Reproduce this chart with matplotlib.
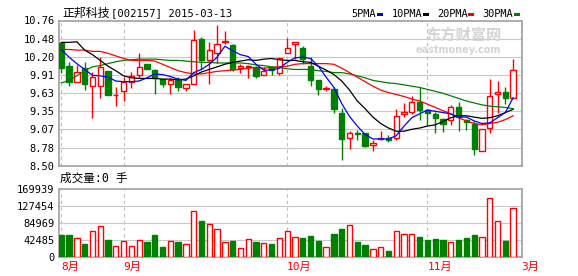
import numpy as np
import matplotlib.pyplot as plt
from matplotlib.patches import Rectangle

# daily candles (oldest first)
opens = [10.41, 10.05, 9.81, 10.02, 9.75, 9.74, 9.97, 9.60, 9.66, 9.81,
         9.91, 10.09, 9.99, 9.85, 9.77, 9.83, 9.71, 9.78, 10.48, 10.14,
         10.26, 10.43, 10.38, 10.02, 10.03, 10.04, 9.91, 10.03, 9.95, 10.26,
         10.40, 10.34, 10.06, 9.84, 9.70, 9.69, 9.32, 8.93, 9.01, 9.01,
         8.82, 8.92, 8.93, 8.93, 9.31, 9.34, 9.49, 9.37, 9.31, 9.23,
         9.21, 9.42, 9.21, 9.16, 8.73, 9.09, 9.62, 9.65, 9.56]
closes = [10.02, 9.80, 9.96, 9.77, 9.89, 10.04, 9.61, 9.61, 9.80, 9.90,
          10.04, 10.00, 9.86, 9.77, 9.84, 9.73, 9.78, 10.46, 10.14, 10.30,
          10.39, 10.44, 10.00, 10.05, 10.05, 9.90, 9.98, 9.99, 10.18, 10.33,
          10.42, 10.16, 9.83, 9.69, 9.71, 9.38, 8.92, 9.01, 8.99, 8.81,
          8.86, 8.93, 8.91, 9.28, 9.34, 9.50, 9.37, 9.32, 9.25, 9.16,
          9.42, 9.26, 9.19, 8.77, 9.07, 9.59, 9.65, 9.56, 9.99]
highs = [10.42, 10.12, 10.07, 10.11, 9.96, 10.19, 9.97, 9.73, 9.88, 9.96,
         10.26, 10.09, 10.00, 9.85, 9.87, 9.88, 9.78, 10.62, 10.50, 10.42,
         10.69, 10.59, 10.39, 10.08, 10.07, 10.06, 10.03, 10.04, 10.18, 10.49,
         10.42, 10.37, 10.19, 9.84, 9.75, 9.72, 9.40, 9.05, 9.06, 9.02,
         8.90, 9.05, 8.98, 9.39, 9.48, 9.59, 9.72, 9.38, 9.34, 9.25,
         9.45, 9.50, 9.23, 9.20, 9.07, 9.85, 9.82, 9.73, 10.16]
lows = [9.95, 9.75, 9.81, 9.68, 9.25, 9.56, 9.60, 9.43, 9.51, 9.71,
        9.87, 10.00, 9.62, 9.72, 9.62, 9.66, 9.67, 9.78, 9.99, 9.78,
        10.10, 10.39, 9.98, 9.95, 9.86, 9.86, 9.91, 9.91, 9.92, 10.26,
        10.16, 10.08, 9.75, 9.60, 9.66, 9.32, 8.59, 8.77, 8.91, 8.80,
        8.74, 8.90, 8.87, 8.91, 9.26, 9.31, 9.22, 9.14, 9.02, 9.03,
        9.13, 9.05, 9.06, 8.67, 8.73, 9.01, 9.33, 9.47, 9.56]

ma5 = [10.31, 10.19, 10.09, 10.00, 9.91, 9.90, 9.88, 9.82, 9.81, 9.81,
       9.82, 9.87, 9.93, 9.92, 9.89, 9.85, 9.83, 9.95, 10.00, 10.08,
       10.19, 10.36, 10.29, 10.23, 10.20, 10.08, 9.99, 9.99, 10.02, 10.11,
       10.18, 10.19, 10.17, 10.05, 9.88, 9.72, 9.47, 9.27, 9.12, 8.99,
       8.92, 8.92, 8.92, 8.97, 9.12, 9.25, 9.31, 9.37, 9.35, 9.33,
       9.31, 9.26, 9.26, 9.20, 9.16, 9.17, 9.25, 9.33, 9.56]
ma10 = [10.42, 10.42, 10.43, 10.30, 10.23, 10.14, 10.05, 9.98, 9.90, 9.87,
        9.86, 9.86, 9.86, 9.85, 9.85, 9.84, 9.85, 9.90, 9.96, 10.00,
        10.04, 10.08, 10.11, 10.13, 10.15, 10.14, 10.16, 10.17, 10.15, 10.14,
        10.14, 10.12, 10.11, 10.05, 9.99, 9.92, 9.82, 9.68, 9.51, 9.39,
        9.26, 9.16, 9.09, 9.04, 9.04, 9.07, 9.09, 9.12, 9.14, 9.19,
        9.25, 9.28, 9.28, 9.26, 9.24, 9.25, 9.28, 9.33, 9.38]
ma20 = [10.31, 10.31, 10.30, 10.30, 10.28, 10.28, 10.25, 10.21, 10.17, 10.14,
        10.14, 10.14, 10.13, 10.08, 10.03, 9.98, 9.95, 9.93, 9.93, 9.95,
        9.97, 9.98, 9.99, 10.00, 10.02, 10.03, 10.02, 10.03, 10.04, 10.05,
        10.08, 10.09, 10.09, 10.09, 10.09, 10.08, 10.02, 9.95, 9.88, 9.81,
        9.74, 9.68, 9.64, 9.61, 9.58, 9.54, 9.51, 9.46, 9.41, 9.36,
        9.31, 9.25, 9.20, 9.16, 9.14, 9.16, 9.18, 9.22, 9.28]
ma30 = [9.79, 9.83, 9.90, 9.98, 10.04, 10.06, 10.09, 10.12, 10.14, 10.15,
        10.16, 10.16, 10.16, 10.15, 10.14, 10.14, 10.13, 10.12, 10.11, 10.11,
        10.10, 10.10, 10.10, 10.10, 10.09, 10.07, 10.06, 10.04, 10.03, 10.01,
        10.00, 10.00, 10.00, 9.98, 9.97, 9.95, 9.95, 9.93, 9.90, 9.87,
        9.83, 9.81, 9.79, 9.78, 9.76, 9.74, 9.72, 9.69, 9.66, 9.63,
        9.59, 9.55, 9.51, 9.48, 9.45, 9.43, 9.42, 9.41, 9.39]

volumes = [55000, 55000, 47500, 33200, 65700, 77500, 43200, 27500, 40000, 27500,
           42500, 38200, 55000, 25700, 40000, 38200, 32500, 115000, 90700, 82500,
           70000, 37500, 40700, 22500, 45000, 38200, 35000, 33200, 47500, 65700,
           50000, 48200, 53200, 40700, 25000, 58200, 70700, 80000, 38200, 30700,
           20000, 25000, 16500, 65700, 58200, 58200, 50700, 43200, 45700, 43200,
           38200, 43200, 48200, 55700, 50000, 147400, 90000, 40700, 122400]

price_ticks = [8.50, 8.78, 9.07, 9.35, 9.63, 9.91, 10.20, 10.48, 10.76]
price_labels = ['8.50', '8.78', '9.07', '9.35', '9.63', '9.91', '10.20', '10.48', '10.76']
vol_ticks = [0, 42485, 84969, 127454, 169939]
month_pos = [0, 8, 29, 47, 59]
month_labels = ['8月', '9月', '10月', '11月', '3月']

RED = '#ff0000'
GREEN = '#008000'
GRID = '#c8c8c8'
BORDER = '#a0a0a0'
MONO = ['DejaVu Sans Mono', 'Noto Sans CJK SC']
CJK = ['Noto Sans CJK SC', 'DejaVu Sans']

W, H = 578, 276
def box(l, t, r, b):
    return [l / W, 1 - b / H, (r - l) / W, (b - t) / H]

fig = plt.figure(figsize=(W / 100, H / 100), dpi=100)
ax = fig.add_axes(box(58.7, 20.5, 522.3, 166))
axv = fig.add_axes(box(58.7, 189.3, 522.3, 257.3))

x = np.arange(len(closes))
w = 0.68

for a in (ax, axv):
    a.set_xlim(-0.33, 59.18)
    for s in a.spines.values():
        s.set_color(BORDER)
        s.set_linewidth(1.2)
    for m in month_pos:
        a.axvline(m, color='#bdbdbd', lw=0.8, ls=(0, (3, 3)), zorder=0)

# price panel
ax.set_ylim(8.50, 10.76)
for t in price_ticks[1:-1]:
    ax.axhline(t, color=GRID, lw=0.8, zorder=0)

ax.text(0.955, 0.90, '东方财富网', transform=ax.transAxes, ha='right', va='center',
        fontsize=11, fontweight='bold', color='#d4d4d4', family=CJK, zorder=1)
ax.text(0.955, 0.80, 'eastmoney.com', transform=ax.transAxes, ha='right', va='center',
        fontsize=7, fontweight='bold', color='#d4d4d4', family='DejaVu Sans', zorder=1)

for i in x:
    o, h, l, c = opens[i], highs[i], lows[i], closes[i]
    up = c >= o
    col = RED if up else GREEN
    top, bot = max(o, c), min(o, c)
    ax.vlines(i, top, h, color=col, lw=1, zorder=2)
    ax.vlines(i, l, bot, color=col, lw=1, zorder=2)
    ax.add_patch(Rectangle((i - w / 2, bot), w, max(top - bot, 0.004),
                           facecolor='white' if up else col, edgecolor=col,
                           lw=1, zorder=3))

ax.plot(x, ma30, color=GREEN, lw=0.9, zorder=4)
ax.plot(x, ma20, color=RED, lw=0.9, zorder=4)
ax.plot(x, ma10, color='black', lw=0.9, zorder=4)
ax.plot(x, ma5, color='#0000ff', lw=0.9, zorder=4)

ax.set_yticks(price_ticks, price_labels, family=MONO, fontsize=7.5)
ax.set_xticks([])
ax.tick_params(axis='y', length=0, pad=3)

# volume panel
axv.set_ylim(0, 169939)
for t in vol_ticks[1:-1]:
    axv.axhline(t, color=GRID, lw=0.8, zorder=0)
for i in x:
    up = closes[i] >= opens[i]
    col = RED if up else GREEN
    axv.bar(i, volumes[i], width=w, facecolor='white' if up else col,
            edgecolor=col, lw=1, zorder=3)
axv.set_yticks(vol_ticks, [str(v) for v in vol_ticks], family=MONO, fontsize=7.5)
axv.set_xticks(month_pos, month_labels, family=MONO, fontsize=8, color=RED)
for t in axv.get_xticklabels():
    t.set_ha('left')
axv.tick_params(length=0, pad=3)

# header texts
fig.text(62 / W, 1 - 13 / H, '正邦科技', family=CJK, fontsize=8.6, va='center')
fig.text(111 / W, 1 - 13 / H, '[002157] 2015-03-13', family=MONO, fontsize=7.6, va='center')
fig.text(60 / W, 1 - 178 / H, '成交量:0 手', family=MONO, fontsize=8.4, va='center')

leg = [('5PMA', 351.7, '#0000ff'), ('10PMA', 391.7, 'black'),
       ('20PMA', 436.7, RED), ('30PMA', 482.7, GREEN)]
for name, px, col in leg:
    t = fig.text(px / W, 1 - 14 / H, name, family=MONO, fontsize=7.4, va='center')
    px2 = px + 6.1 * len(name) + 1
    fig.patches.append(Rectangle((px2 / W, 1 - 15.5 / H), 6 / W, 2.5 / H,
                                 transform=fig.transFigure, facecolor=col,
                                 edgecolor='none'))

fig.savefig('out.png', dpi=100)
